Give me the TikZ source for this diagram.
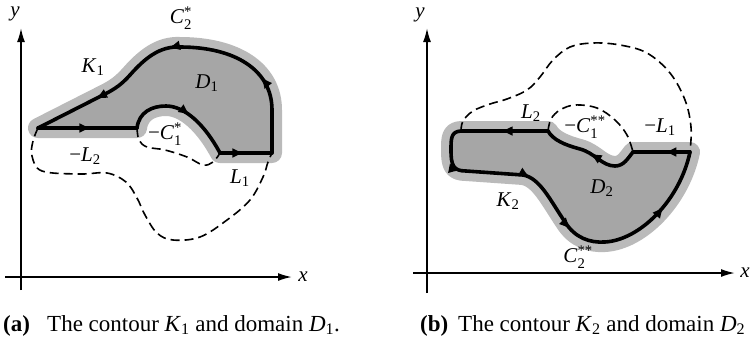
\documentclass[tikz,border=0pt]{standalone}
\usepackage{amsmath}
\usepackage{fontspec}
\setmainfont{Liberation Serif}
\usetikzlibrary{arrows.meta,decorations.markings}
\newcommand\labss[3]{\textit{#1}$_{\text{#2}}^{\text{#3}}$}
\newcommand\labs[2]{\textit{#1}$_{\text{#2}}$}
\begin{document}
\begin{tikzpicture}[x=1pt,y=-1pt,
  contour/.style={line width=3.6pt, line join=round, line cap=round},
  arr/.style={postaction={decorate,decoration={markings,mark=at position #1 with {\arrow{Latex[length=12pt,width=10pt]}}}}},
  bound/.style={dash pattern=on 9pt off 5pt, line width=1.6pt},
  axis/.style={line width=1.8pt, -{Latex[length=14pt,width=8pt]}},
  shade/.style={fill=black!35, draw=black!27, line width=20pt, line join=round},
  lbl/.style={font=\fontsize{21}{24}\selectfont, inner sep=0pt},
  captxt/.style={font=\fontsize{23}{26}\selectfont, inner sep=0pt, anchor=base west}]
\useasboundingbox (0,0) rectangle (750,341);

% ---------------- panel (a) ----------------
\coordinate (ayb) at (21,290); \coordinate (ayt) at (21,28);
\coordinate (axl) at (5,277);  \coordinate (axr) at (292,277);
\draw[axis] (ayb) -- (ayt);
\draw[axis] (axl) -- (axr);
\node[lbl] (ya) at (15,14) {\textit{y}};
\node[lbl] (xa) at (303,277) {\textit{x}};

\path[shade] (38,128) -- (137,128) .. controls (139,112) and (152,106) .. (166,106)
  .. controls (185,106) and (205,125) .. (220,153) -- (272,153) -- (272,110)
  .. controls (272,70) and (235,47) .. (180,47) .. controls (160,46) and (145,58) .. (130,75)
  .. controls (122,84) and (115,89) .. (105,94) -- cycle;
\path[fill=black!35] (38,128) -- (137,128) .. controls (139,112) and (152,106) .. (166,106)
  .. controls (185,106) and (205,125) .. (220,153) -- (272,153) -- (272,110)
  .. controls (272,70) and (235,47) .. (180,47) .. controls (160,46) and (145,58) .. (130,75)
  .. controls (122,84) and (115,89) .. (105,94) -- cycle;

\draw[bound] plot[smooth, tension=0.6] coordinates {(38,128) (33,141) (32,156) (42,171) (80,174) (107,173) (126,182) (137,198) (145,215) (157,233) (173,240) (200,237) (227,220) (250,200) (263,177) (268,162) (272,153)};
\draw[bound] plot[smooth, tension=0.6] coordinates {(137,128) (139,140) (147,147) (165,150) (187,157) (203,165) (213,162) (220,153)};

\draw[contour, arr=0.54] (38,128) -- (137,128);
\draw[contour, arr=0.58] (137,128) .. controls (139,112) and (152,106) .. (166,106)
  .. controls (185,106) and (205,125) .. (220,153);
\draw[contour, arr=0.47] (220,153) -- (272,153);
\draw[contour, arr=0.47] (272,153) -- (272,110) .. controls (272,70) and (235,47) .. (180,47);
\draw[contour, arr=12pt, arr=102pt] (180,47) .. controls (160,46) and (145,58) .. (130,75)
  .. controls (122,84) and (115,89) .. (105,94) -- (38,128);

\node[lbl] (C2a) at (181,18) {\labss{C}{2}{*}};
\node[lbl] (K1)  at (93,67)  {\labs{K}{1}};
\node[lbl] (D1)  at (207,83) {\labs{D}{1}};
\node[lbl] (C1a) at (165,134) {−\labss{C}{1}{*}};
\node[lbl] (L2a) at (85,156) {−\labs{L}{2}};
\node[lbl] (L1a) at (240,178) {\labs{L}{1}};

\node[captxt] (capa) at (3,331) {\textbf{(a)}};
\node[captxt] (capat) at (47,331) {The contour \textit{K}\textsubscript{1} and domain \textit{D}\textsubscript{1}.};

% ---------------- panel (b) ----------------
\coordinate (byb) at (427,293); \coordinate (byt) at (427,28);
\coordinate (bxl) at (413,273); \coordinate (bxr) at (735,273);
\draw[axis] (byb) -- (byt);
\draw[axis] (bxl) -- (bxr);
\node[lbl] (yb) at (420,15) {\textit{y}};
\node[lbl] (xb) at (745,273) {\textit{x}};

\path[shade] (548,131) -- (462,131) .. controls (451,131) and (451,138) .. (451,150)
  .. controls (451,165) and (453,171) .. (466,171) -- (523,175)
  .. controls (540,178) and (550,200) .. (565,222) .. controls (575,238) and (590,243) .. (605,242)
  .. controls (640,240) and (680,200) .. (690,152) -- (633,152)
  .. controls (628,158) and (624,166) .. (615,166) .. controls (602,166) and (595,153) .. (580,149)
  .. controls (565,145) and (553,140) .. cycle;
\path[fill=black!35] (548,131) -- (462,131) .. controls (451,131) and (451,138) .. (451,150)
  .. controls (451,165) and (453,171) .. (466,171) -- (523,175)
  .. controls (540,178) and (550,200) .. (565,222) .. controls (575,238) and (590,243) .. (605,242)
  .. controls (640,240) and (680,200) .. (690,152) -- (633,152)
  .. controls (628,158) and (624,166) .. (615,166) .. controls (602,166) and (595,153) .. (580,149)
  .. controls (565,145) and (553,140) .. cycle;

\draw[bound] plot[smooth, tension=0.6] coordinates {(461,131) (463,121) (473,111) (490,104) (507,99) (527,90) (540,77) (553,60) (570,47) (593,43) (620,45) (647,53) (670,73) (685,100) (691,127) (690,152)};
\draw[bound] plot[smooth, tension=0.6] coordinates {(548,131) (551,119) (560,110) (575,105) (597,108) (615,120) (627,135) (633,152)};

\draw[contour, arr=0.55] (548,131) -- (462,131);
\draw[contour, arr=0.45] (462,131) .. controls (451,131) and (451,138) .. (451,150)
  .. controls (451,165) and (453,171) .. (466,171) -- (523,175);
\draw[contour, arr=8pt, arr=74pt, arr=0.75] (523,175)
  .. controls (540,178) and (550,200) .. (565,222) .. controls (575,238) and (590,243) .. (605,242)
  .. controls (640,240) and (680,200) .. (690,152);
\draw[contour, arr=0.45] (690,152) -- (633,152);
\draw[contour, arr=0.52] (633,152)
  .. controls (628,158) and (624,166) .. (615,166) .. controls (602,166) and (595,153) .. (580,149)
  .. controls (565,145) and (553,140) .. (548,131);

\node[lbl] (L2b) at (531,113) {\labs{L}{2}};
\node[lbl] (C1b) at (585,127) {−\labss{C}{1}{**}};
\node[lbl] (L1b) at (660,127) {−\labs{L}{1}};
\node[lbl] (K2)  at (508,201) {\labs{K}{2}};
\node[lbl] (D2)  at (602,188) {\labs{D}{2}};
\node[lbl] (C2b) at (578,257) {\labss{C}{2}{**}};

\node[captxt] (capb) at (420,331) {\textbf{(b)}};
\node[captxt] (capbt) at (458,331) {The contour \textit{K}\textsubscript{2} and domain \textit{D}\textsubscript{2}};
\end{tikzpicture}
\end{document}
